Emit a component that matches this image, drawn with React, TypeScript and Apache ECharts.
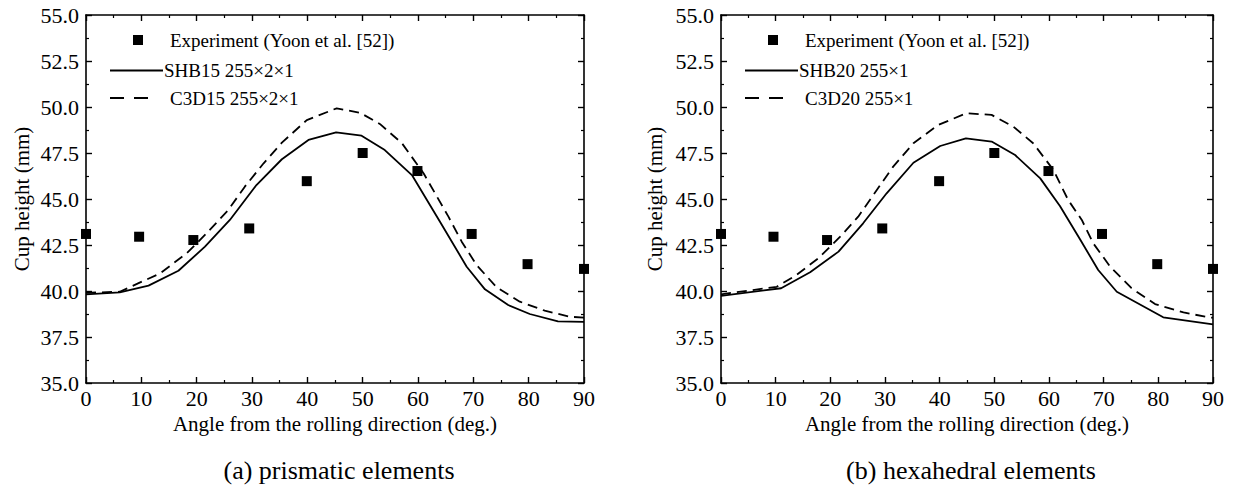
import React, { useEffect, useRef } from "react";
import * as echarts from "echarts";

const FONT = "Liberation Serif";

const EXP_ANGLE = [0, 9.6, 19.4, 29.5, 39.9, 50, 59.9, 69.7, 79.8, 90];
const EXP_HEIGHT = [43.1, 42.95, 42.77, 43.4, 45.97, 47.5, 46.52, 43.1, 41.46, 41.2];

const SHB15_ANGLE = [0, 6.1, 11.3, 16.7, 21.5, 26.0, 30.8, 35.4, 40.2, 45.2, 49.8, 54.0, 58.9, 64.0, 68.8, 72.1, 76.3, 80.2, 85.3, 90];
const SHB15_HEIGHT = [39.82, 39.93, 40.29, 41.1, 42.41, 43.86, 45.76, 47.16, 48.21, 48.62, 48.44, 47.66, 46.3, 43.75, 41.32, 40.09, 39.24, 38.75, 38.35, 38.32];

const C3D15_ANGLE = [0, 6.1, 13.4, 18.2, 21.8, 25.7, 28.7, 32.1, 35.4, 39.9, 45.3, 49.5, 53.1, 57.1, 61.0, 65.5, 67.9, 70.6, 74.2, 78.4, 82.9, 87.5, 90];
const C3D15_HEIGHT = [39.9, 39.96, 40.96, 42.05, 43.14, 44.4, 45.67, 46.94, 48.06, 49.29, 49.93, 49.69, 49.08, 48.03, 46.4, 44.04, 42.68, 41.41, 40.2, 39.42, 38.93, 38.6, 38.55];

const SHB20_ANGLE = [0, 11.0, 16.3, 21.5, 26.0, 30.3, 35.2, 40.1, 44.8, 49.5, 53.8, 58.4, 62.0, 65.7, 69.0, 72.4, 80.9, 90];
const SHB20_HEIGHT = [39.73, 40.15, 41.02, 42.14, 43.68, 45.31, 46.97, 47.88, 48.3, 48.12, 47.39, 46.12, 44.62, 42.8, 41.14, 39.96, 38.57, 38.19];

const C3D20_ANGLE = [0, 10.2, 13.8, 17.8, 21.8, 25.1, 28.5, 31.5, 35.2, 39.7, 44.9, 49.5, 53.5, 57.1, 60.8, 63.5, 66.0, 68.1, 71.2, 75.1, 79.4, 84.6, 89.1, 90];
const C3D20_HEIGHT = [39.82, 40.23, 40.87, 41.78, 42.95, 44.04, 45.49, 46.76, 48.03, 49.02, 49.66, 49.57, 48.93, 48.03, 46.58, 44.95, 43.86, 42.59, 41.32, 40.15, 39.29, 38.84, 38.57, 38.55];

const PANELS = [
  { left: 86, width: 498, exp: "Experiment (Yoon et al. [52])", solid: "SHB15 255×2×1", dashed: "C3D15 255×2×1", caption: "(a) prismatic elements", yNameGap: 54 },
  { left: 721, width: 492, exp: "Experiment (Yoon et al. [52])", solid: "SHB20 255×1", dashed: "C3D20 255×1", caption: "(b) hexahedral elements", yNameGap: 56 },
];

const X_TITLE = "Angle from the rolling direction (deg.)";
const Y_TITLE = "Cup height (mm)";

const TOP = 15;
const HEIGHT = 368;
const DASH = [10, 6];

const zip = (a: number[], b: number[]) => a.map((v, i) => [v, b[i]]);

export default function App() {
  const ref = useRef<HTMLDivElement>(null);
  useEffect(() => {
    document.body.style.margin = "0";
    const chart = echarts.init(ref.current!, null, { renderer: "svg" });
    const black = "#000";
    const xAxes: any[] = [];
    const yAxes: any[] = [];
    const grids: any[] = [];
    const graphics: any[] = [];
    PANELS.forEach((p, gi) => {
      grids.push({ left: p.left, top: TOP, width: p.width, height: HEIGHT });
      const common = {
        type: "value",
        gridIndex: gi,
        axisLine: { show: true, onZero: false, lineStyle: { color: black, width: 1.6 } },
        axisTick: { show: true, inside: true, length: 6, lineStyle: { color: black, width: 1.4 } },
        minorTick: { show: true, splitNumber: 2, length: 3, lineStyle: { color: black, width: 1.2 } },
        splitLine: { show: false },
      };
      xAxes.push({
        ...common,
        position: "bottom",
        min: 0,
        max: 90,
        interval: 10,
        axisLabel: { color: black, fontFamily: FONT, fontSize: 22, margin: 4 },
        name: X_TITLE,
        nameLocation: "middle",
        nameGap: 28,
        nameTextStyle: { color: black, fontFamily: FONT, fontSize: 21 },
      });
      xAxes.push({ ...common, position: "top", min: 0, max: 90, interval: 10, axisLabel: { show: false } });
      yAxes.push({
        ...common,
        position: "left",
        min: 35,
        max: 55,
        interval: 2.5,
        axisLabel: { color: black, fontFamily: FONT, fontSize: 22, margin: 7, formatter: (v: number) => v.toFixed(1) },
        name: Y_TITLE,
        nameLocation: "middle",
        nameGap: p.yNameGap,
        nameTextStyle: { color: black, fontFamily: FONT, fontSize: 21 },
      });
      yAxes.push({ ...common, position: "right", min: 35, max: 55, interval: 2.5, axisLabel: { show: false } });

      const L = p.left;
      graphics.push(
        { type: "rect", shape: { x: L + 47, y: 35, width: 10, height: 10 }, style: { fill: black } },
        { type: "text", x: L + 84, y: 40, style: { text: p.exp, fontFamily: FONT, fontSize: 19, fill: black, verticalAlign: "middle" } },
        { type: "line", shape: { x1: L + 24, y1: 70.5, x2: L + 77, y2: 70.5 }, style: { stroke: black, lineWidth: 1.8 } },
        { type: "text", x: L + 78, y: 70, style: { text: p.solid, fontFamily: FONT, fontSize: 19, fill: black, verticalAlign: "middle" } },
        { type: "line", shape: { x1: L + 24, y1: 98, x2: L + 62, y2: 98 }, style: { stroke: black, lineWidth: 1.8, lineDash: [14, 10] } },
        { type: "text", x: L + 84, y: 98, style: { text: p.dashed, fontFamily: FONT, fontSize: 19, fill: black, verticalAlign: "middle" } },
        { type: "text", x: L + p.width / 2 + 4, y: 470, style: { text: p.caption, fontFamily: FONT, fontSize: 26, fill: black, align: "center", verticalAlign: "middle" } }
      );
    });

    const lineSeries = (data: number[][], xi: number, yi: number, dashed: boolean) => ({
      type: "line",
      xAxisIndex: xi,
      yAxisIndex: yi,
      data,
      symbol: "none",
      lineStyle: { color: black, width: 1.8, type: dashed ? DASH : "solid" },
      z: 2,
    });
    const scatterSeries = (xi: number, yi: number) => ({
      type: "scatter",
      xAxisIndex: xi,
      yAxisIndex: yi,
      data: zip(EXP_ANGLE, EXP_HEIGHT),
      symbol: "rect",
      symbolSize: 10,
      itemStyle: { color: black, opacity: 1 },
      clip: true,
      z: 3,
    });

    chart.setOption({
      animation: false,
      backgroundColor: "#fff",
      grid: grids,
      xAxis: xAxes,
      yAxis: yAxes,
      series: [
        scatterSeries(0, 0),
        lineSeries(zip(SHB15_ANGLE, SHB15_HEIGHT), 0, 0, false),
        lineSeries(zip(C3D15_ANGLE, C3D15_HEIGHT), 0, 0, true),
        scatterSeries(2, 2),
        lineSeries(zip(SHB20_ANGLE, SHB20_HEIGHT), 2, 2, false),
        lineSeries(zip(C3D20_ANGLE, C3D20_HEIGHT), 2, 2, true),
      ],
      graphic: graphics,
    });
    return () => chart.dispose();
  }, []);
  return <div ref={ref} style={{ width: 1234, height: 495 }} />;
}
